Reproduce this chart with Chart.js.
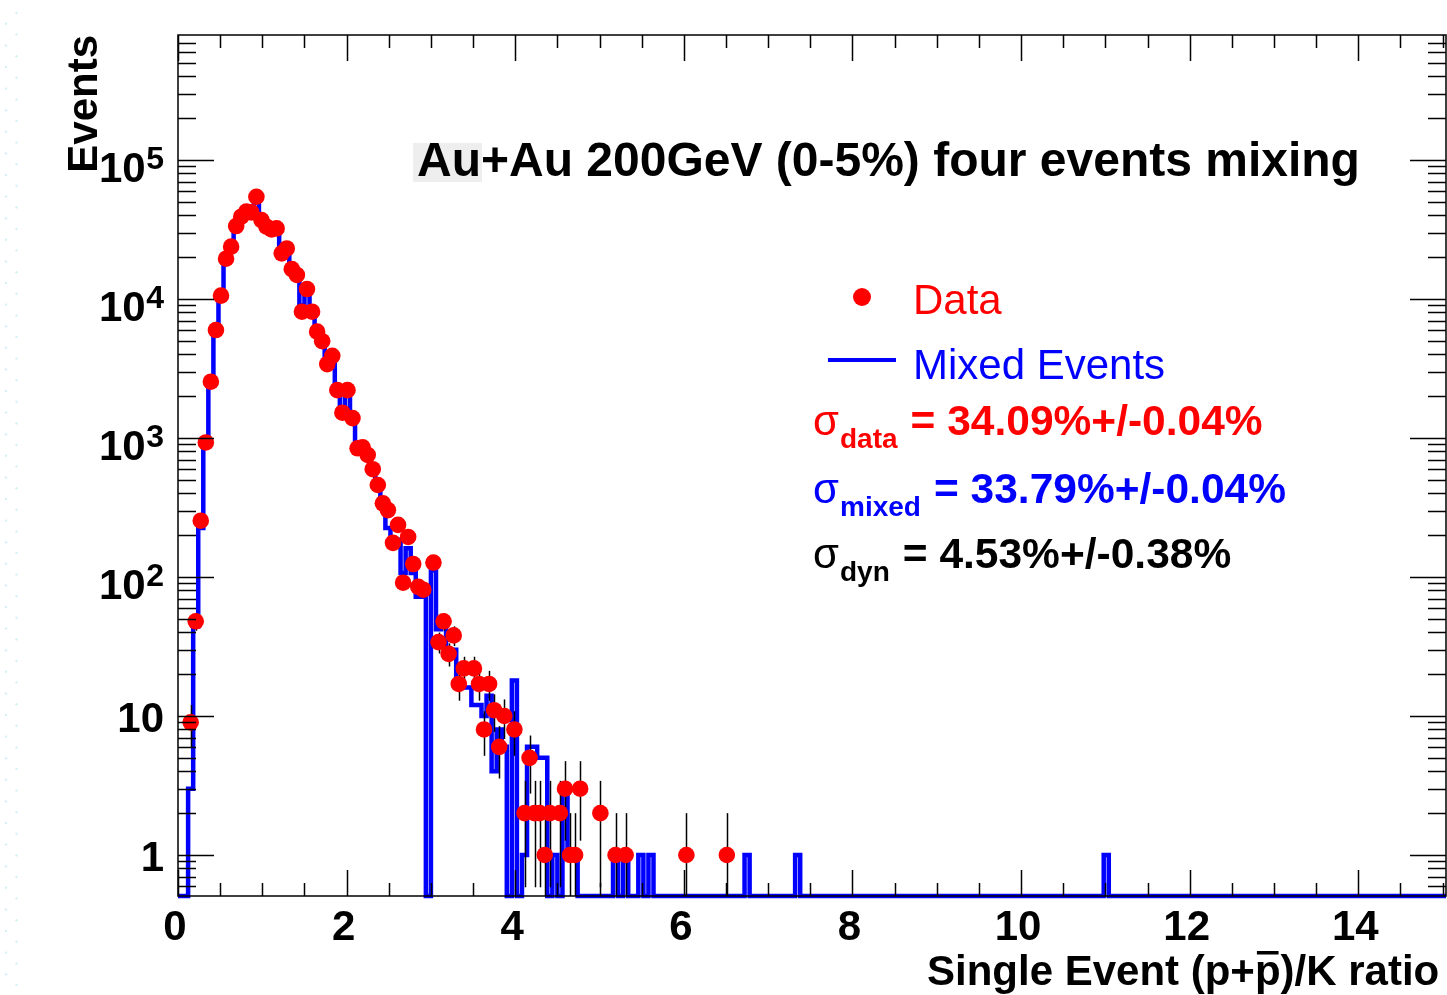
<!DOCTYPE html>
<html><head><meta charset="utf-8">
<script src="https://cdn.jsdelivr.net/npm/chart.js@4.4.1/dist/chart.umd.min.js"></script>
<style>html,body{margin:0;padding:0;background:#fff;overflow:hidden;} canvas{display:block;}</style>
</head><body>
<canvas id="c" width="1447" height="995" style="width:1447px;height:995px" aria-label="Au+Au 200GeV (0-5%) four events mixing: Events vs Single Event (p+p̄)/K ratio"></canvas>
<script>
// ---------------- data ----------------
const BIN_WIDTH = 0.06;               // histogram bin width in (p+pbar)/K ratio
// Data counts per bin (bin k covers [k*0.06, (k+1)*0.06)), 0 = empty bin
const dataCounts = [
  0, 0, 9, 48, 254, 929, 2540, 5980, 10570, 19500,
  23800, 33500, 39100, 42500, 42000, 54400, 37000, 33100, 31700, 32200,
  21300, 23100, 16400, 14900, 8100, 11800, 8100, 5820, 4970, 3400,
  3900, 2210, 1520, 2210, 1390, 843, 857, 755, 596, 459,
  339, 303, 176, 237, 91, 194, 124, 85, 81, 0,
  127, 34, 48, 28, 38, 17, 22, 0, 22, 17,
  8, 17, 11, 6, 10, 0, 8, 0, 2, 5,
  2, 2, 1, 2, 0, 2, 3, 1, 1, 3,
  0, 0, 0, 2, 0, 0, 1, 0, 1, 0,
  0, 0, 0, 0, 0, 0, 0, 0, 0, 0,
  1, 0, 0, 0, 0, 0, 0, 0, 1
];
// Mixed-event counts per bin
const mixedCounts = [
  0, 0, 3, 44, 225, 900, 2500, 6000, 10000, 19000,
  24000, 33000, 40000, 43000, 44000, 50000, 38000, 34000, 31000, 31000,
  21000, 22000, 16000, 15000, 9000, 11000, 8000, 6000, 5000, 3600,
  3800, 2300, 1500, 2100, 1400, 850, 830, 780, 600, 470,
  330, 225, 190, 185, 107, 161, 107, 72, 72, 0,
  112, 42, 45, 30, 30, 18, 16, 16, 12, 12,
  10, 14, 4, 8, 6, 0, 18, 0, 1, 6,
  6, 5, 5, 0, 1, 0, 3, 1, 1, 0,
  0, 0, 0, 0, 0, 0, 1, 0, 1, 0,
  0, 1, 0, 1
];
const mixedTailBins   = [112, 122, 183];
const mixedTailCounts = [1, 1, 1];

const xTickValues = [0, 2, 4, 6, 8, 10, 12, 14];
const xTickLabels = ['0', '2', '4', '6', '8', '10', '12', '14'];
const yTickValues = [1, 10, 100, 1000, 10000, 100000];
const yTickBase   = ['1', '10', '10', '10', '10', '10'];
const yTickExp    = ['', '', '2', '3', '4', '5'];

const X_MIN = 0, X_MAX = 15.04, Y_MIN = 0.507, Y_MAX = 7.93e5;

const titleText = 'Au+Au 200GeV (0-5%) four events mixing';
const legendLabels = ['Data', 'Mixed Events'];
const sigmaSubs = ['data', 'mixed', 'dyn'];
const sigmaValues = ['= 34.09%+/-0.04%', '= 33.79%+/-0.04%', '= 4.53%+/-0.38%'];
const sigmaColors = ['#ff0000', '#0000ff', '#000000'];
const yTitle = 'Events';
const xTitleParts = ['Single Event (p+', 'p', ')/K ratio'];

// ---------------- build datasets ----------------
const dataPoints = [];
dataCounts.forEach((n, k) => { if (n > 0) dataPoints.push({ x: (k + 0.5) * BIN_WIDTH, y: n }); });

const mixedFull = mixedCounts.slice();
mixedTailBins.forEach((b, i) => { while (mixedFull.length <= b) mixedFull.push(0); mixedFull[b] = mixedTailCounts[i]; });
const nBins = Math.floor(X_MAX / BIN_WIDTH + 1e-9);
while (mixedFull.length < nBins) mixedFull.push(0);
const mixedSteps = mixedFull.map((n, k) => ({ x: k * BIN_WIDTH, y: n > 0 ? n : Y_MIN }));
mixedSteps.push({ x: X_MAX, y: Y_MIN });

const FONT = "'Liberation Sans', Arial, Helvetica, sans-serif";

// ---------------- plugins ----------------
const bgDots = {
  id: 'bgDots',
  beforeDraw(chart) {
    const c = chart.ctx; c.save();
    c.fillStyle = '#d4f1f5';
    let i = 0;
    for (let y = 13; y < 995; y += 10.8, i++) {
      c.beginPath(); c.arc(i % 2 ? 6 : 16.5, y, 1.2, 0, Math.PI * 2); c.fill();
    }
    c.restore();
  }
};

const errorBars = {
  id: 'errorBars',
  afterDatasetDraw(chart, args) {
    if (args.index !== 1) return;
    const c = chart.ctx, xs = chart.scales.x, ys = chart.scales.y, a = chart.chartArea;
    c.save();
    c.beginPath(); c.rect(a.left, a.top, a.right - a.left, a.bottom - a.top); c.clip();
    c.strokeStyle = '#000'; c.lineWidth = 1.5;
    dataPoints.forEach(p => {
      const e = Math.sqrt(p.y);
      const lo = Math.max(p.y - e, Y_MIN), hi = p.y + e;
      const px = Math.round(xs.getPixelForValue(p.x)) + 0.5;
      c.beginPath(); c.moveTo(px, ys.getPixelForValue(lo)); c.lineTo(px, ys.getPixelForValue(hi)); c.stroke();
    });
    c.restore();
  }
};

const rootFrame = {
  id: 'rootFrame',
  afterDatasetsDraw(chart) {
    const c = chart.ctx, xs = chart.scales.x, ys = chart.scales.y, a = chart.chartArea;
    c.save();
    c.strokeStyle = '#000'; c.lineWidth = 1.5;
    c.strokeRect(a.left, a.top, a.right - a.left, a.bottom - a.top);
    c.beginPath();
    // x ticks every 0.5, major every 2
    for (let i = 0; i * 0.5 <= X_MAX; i++) {
      const v = i * 0.5, px = Math.round(xs.getPixelForValue(v)) + 0.5;
      const len = (i % 4 === 0) ? 26 : 13;
      c.moveTo(px, a.bottom); c.lineTo(px, a.bottom - len);
      c.moveTo(px, a.top); c.lineTo(px, a.top + len);
    }
    // y log ticks
    for (let d = -1; d <= 5; d++) {
      for (let m = 1; m <= 9; m++) {
        const v = m * Math.pow(10, d);
        if (v < Y_MIN || v > Y_MAX) continue;
        const py = Math.round(ys.getPixelForValue(v)) + 0.5;
        const len = (m === 1) ? 36 : 18;
        c.moveTo(a.left, py); c.lineTo(a.left + len, py);
        c.moveTo(a.right, py); c.lineTo(a.right - len, py);
      }
    }
    c.stroke();
    c.restore();
  },
  afterDraw(chart) {
    const c = chart.ctx, xs = chart.scales.x, ys = chart.scales.y, a = chart.chartArea;
    c.save();
    c.fillStyle = '#000';
    // x tick labels
    c.font = `bold 42px ${FONT}`; c.textAlign = 'center'; c.textBaseline = 'alphabetic';
    xTickValues.forEach((v, i) => c.fillText(xTickLabels[i], xs.getPixelForValue(v) - 3, 940));
    // y tick labels
    yTickValues.forEach((v, i) => {
      const py = ys.getPixelForValue(v);
      const right = 164;
      if (yTickExp[i]) {
        c.font = `bold 32px ${FONT}`; c.textAlign = 'right';
        c.fillText(yTickExp[i], right, py + 9);
        const w = c.measureText(yTickExp[i]).width;
        c.font = `bold 42px ${FONT}`;
        c.fillText(yTickBase[i], right - w - 0.5, py + 22);
      } else {
        c.font = `bold 42px ${FONT}`; c.textAlign = 'right';
        c.fillText(yTickBase[i], right, py + 16);
      }
    });
    // y title
    c.save();
    c.translate(97, 35); c.rotate(-Math.PI / 2);
    c.font = `bold 42px ${FONT}`; c.textAlign = 'right';
    c.fillText(yTitle, 0, 0);
    c.restore();
    // x title with overlined p
    c.font = `bold 42px ${FONT}`; c.textAlign = 'left';
    let xx = 927; const by = 985;
    c.fillText(xTitleParts[0], xx, by); xx += c.measureText(xTitleParts[0]).width;
    const pw = c.measureText(xTitleParts[1]).width;
    c.fillText(xTitleParts[1], xx, by);
    c.fillRect(xx + 2, by - 34, pw - 4, 3.5);
    xx += pw;
    c.fillText(xTitleParts[2], xx, by);
    // title
    c.fillStyle = '#eeeeee'; c.fillRect(413, 143, 69, 39);
    c.fillStyle = '#000';
    c.font = `bold 48px ${FONT}`; c.textAlign = 'left';
    c.fillText(titleText, 417, 176);
    // legend
    c.fillStyle = '#ff0000';
    c.beginPath(); c.arc(862, 297, 9, 0, Math.PI * 2); c.fill();
    c.font = `42px ${FONT}`;
    c.fillText(legendLabels[0], 913, 314);
    c.strokeStyle = '#0000ff'; c.lineWidth = 4;
    c.beginPath(); c.moveTo(828, 360); c.lineTo(896, 360); c.stroke();
    c.fillStyle = '#0000ff';
    c.fillText(legendLabels[1], 913, 379);
    // sigma lines
    const baseY = [435, 503, 568];
    sigmaSubs.forEach((s, i) => {
      c.fillStyle = sigmaColors[i];
      c.font = `42px ${FONT}`;
      c.fillText('σ', 813, baseY[i]);
      c.font = `bold 28px ${FONT}`;
      c.fillText(s, 840, baseY[i] + 13);
      const sw = c.measureText(s).width;
      c.font = `bold 42.5px ${FONT}`;
      c.fillText(sigmaValues[i], 840 + sw + 13, baseY[i]);
    });
    c.restore();
  }
};

// ---------------- chart ----------------
new Chart(document.getElementById('c'), {
  type: 'line',
  data: {
    datasets: [
      {
        label: 'Data', data: dataPoints, showLine: false,
        pointRadius: 8.3, pointHoverRadius: 8.3, pointBackgroundColor: '#ff0000',
        pointBorderWidth: 0, pointBorderColor: '#ff0000', clip: 9
      },
      {
        label: 'Mixed Events', data: mixedSteps, stepped: 'before',
        borderColor: '#0000ff', borderWidth: 4.5, pointRadius: 0, fill: false,
        borderJoinStyle: 'miter', borderCapStyle: 'butt', tension: 0,
        clip: { left: 0, top: 0, right: 0, bottom: 3 }
      }
    ]
  },
  options: {
    responsive: false, animation: false, devicePixelRatio: 1,
    layout: { autoPadding: false, padding: { left: 178, top: 35, right: 1, bottom: 99 } },
    scales: {
      x: { type: 'linear', min: X_MIN, max: X_MAX, display: false },
      y: { type: 'logarithmic', min: Y_MIN, max: Y_MAX, display: false }
    },
    plugins: { legend: { display: false }, tooltip: { enabled: false } },
    events: []
  },
  plugins: [bgDots, errorBars, rootFrame]
});
</script>
</body></html>
